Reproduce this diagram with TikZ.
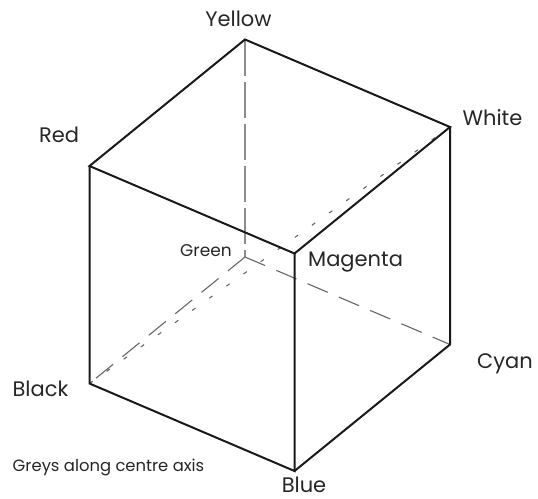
\documentclass[tikz,border=0pt]{standalone}
\usepackage{fontspec}
\setmainfont{Poppins}
\begin{document}
\begin{tikzpicture}[x=1pt,y=-1pt,
  edge/.style={line width=2pt,line join=miter,black!90},
  hid/.style={line width=1.1pt,black!60,dash pattern=on 22pt off 12pt},
  hidv/.style={line width=1.1pt,black!45,dash pattern=on 36pt off 6pt},
  axis/.style={line width=1.1pt,black!60,dash pattern=on 4pt off 17pt},
  lab/.style={inner sep=0pt,font=\fontsize{21}{21}\selectfont,text=black!85},
  small/.style={inner sep=0pt,font=\fontsize{17}{17}\selectfont,text=black!85},
  note/.style={inner sep=0pt,font=\fontsize{16.4}{16.4}\selectfont,text=black!85}]
\useasboundingbox (0,0) rectangle (538,498);
% vertices
\coordinate (black) at (89.5,383.5);
\coordinate (blue) at (294.5,471);
\coordinate (green) at (245,257);
\coordinate (cyan) at (450,344.5);
\coordinate (red) at (89.5,166);
\coordinate (magenta) at (294.5,253.5);
\coordinate (yellow) at (245,39.5);
\coordinate (white) at (450,127);
% hidden lines
\draw[hidv] (yellow) -- (green);
\draw[hid] (green) -- (black);
\draw[hid] (green) -- (cyan);
\draw[axis] (black) -- (white);
% visible edges
\draw[edge] (red) -- (yellow) -- (white) -- (magenta) -- cycle;
\draw[edge] (red) -- (black) -- (blue) -- (magenta);
\draw[edge] (blue) -- (cyan) -- (white);
% labels
\node[lab] (lyellow) at (238.5,18.5) {Yellow};
\node[lab] (lred) at (59,134.5) {Red};
\node[lab] (lwhite) at (492.5,117.5) {White};
\node[small] (lgreen) at (206,251) {Green};
\node[lab,anchor=base west] (lmagenta) at (308,266) {Magenta};
\node[lab] (lblack) at (40.5,388.5) {Black};
\node[lab,anchor=base] (lcyan) at (505,368) {Cyan};
\node[lab,anchor=base] (lblue) at (304,492) {Blue};
\node[note] (lgreys) at (108.5,467) {Greys along centre axis};
\end{tikzpicture}
\end{document}
